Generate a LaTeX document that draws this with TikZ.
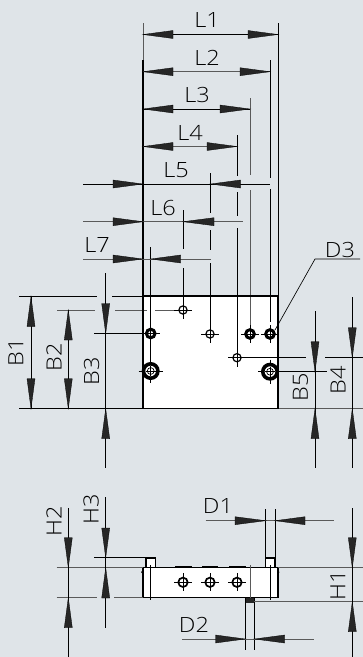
\documentclass[tikz,border=0pt]{standalone}
\usepackage{fontspec}
\setmainfont[FakeStretch=1.12]{Open Sans Light}
\definecolor{bg}{HTML}{DFE4E8}
\definecolor{arr}{HTML}{262626}
\definecolor{gr}{HTML}{5A5A5A}
\tikzset{
  thin line/.style={line width=.65pt,black},
  grey line/.style={line width=.9pt,gr},
  outline/.style={line width=1.5pt,black},
  lab/.style={inner sep=0pt,font=\fontsize{21}{21}\selectfont},
  vlab/.style={lab,rotate=90},
  cross/.style={line width=.7pt,black},
}
% arrowheads: tip and tail positions on a horizontal or vertical dimension line
\newcommand{\harr}[3]{\draw[black,line width=.3pt,fill=arr] (#1,#3) -- (#2,#3-4) -- (#2,#3+4) -- cycle;}
\newcommand{\varr}[3]{\draw[black,line width=.3pt,fill=arr] (#1,#2) -- (#1-4,#3) -- (#1+4,#3) -- cycle;}
\newcommand{\smallhole}[2]{
  \draw[cross] (#1-9,#2) -- (#1+9,#2) (#1,#2-9) -- (#1,#2+9);
  \draw[line width=1.2pt,black] (#1,#2) circle (4.1);}
\newcommand{\elevhole}[2]{
  \draw[cross] (#1-9,#2) -- (#1+9,#2) (#1,#2-9) -- (#1,#2+9);
  \draw[line width=1.7pt,black] (#1,#2) circle (4.7);}
\newcommand{\boldhole}[2]{
  \draw[cross] (#1-9,#2) -- (#1+9,#2) (#1,#2-9) -- (#1,#2+9);
  \draw[line width=3pt,black] (#1,#2) circle (4.3);}
\newcommand{\bighole}[2]{
  \draw[cross] (#1-12,#2) -- (#1+12,#2) (#1,#2-12) -- (#1,#2+12);
  \draw[line width=3.6pt,black,fill=white] (#1,#2) circle (7.2);
  \draw[line width=.7pt,black] (#1,#2) circle (3.4);
  \draw[line width=.5pt,black] (#1-5,#2) -- (#1+5,#2) (#1,#2-5) -- (#1,#2+5);}
\begin{document}
\begin{tikzpicture}[x=1pt,y=-1pt]
\useasboundingbox (0,0) rectangle (363,657);
\fill[bg] (0,0) rectangle (363,657);
% plan view
\fill[white] (143,296) rectangle (278,408.7);
% extension lines, top
\draw[grey line] (143,23) -- (143,60);
\draw[line width=1.2pt] (143,60) -- (143,296);
\draw[thin line] (278,23) -- (278,296);
\draw[thin line] (270,60) -- (270,178) (270,189) -- (270,322);
\draw[grey line] (250,98) -- (250,175) (250,190) -- (250,325);
\draw[thin line] (237,135) -- (237,176) (237,192) -- (237,216) (237,228) -- (237,350);
\draw[thin line] (210.5,173) -- (210.5,213) (210.5,230) -- (210.5,250) (210.5,263) -- (210.5,326);
\draw[thin line] (183,210) -- (183,249) (183,268) -- (183,302);
\draw[thin line] (150.7,247) -- (150.7,380);
% horizontal dimension lines
\draw[thin line] (143,34.5) -- (278,34.5);
\harr{143}{173}{34.5}\harr{278}{248}{34.5}
\draw[grey line] (143,71.7) -- (270,71.7);
\harr{143}{173}{71.7}\harr{270}{240}{71.7}
\draw[thin line] (143,109) -- (250,109);
\harr{143}{173}{109}\harr{250}{220}{109}
\draw[grey line] (143,146.5) -- (237,146.5);
\harr{143}{173}{146.5}\harr{237}{207}{146.5}
\draw[thin line] (83,184) -- (270,184);
\harr{143}{113}{184}\harr{210.5}{240.5}{184}
\draw[grey line] (83,221.7) -- (243,221.7);
\harr{143}{113}{221.7}\harr{183}{214}{221.7}
\draw[grey line] (83,259) -- (210.5,259);
\harr{143}{113}{259}\harr{150.7}{180.7}{259}
% left dimensions
\draw[thin line] (19,296.5) -- (97,296.5) (112,296.5) -- (143,296.5);
\draw[grey line] (57,310) -- (95,310) (115,310) -- (147,310) (155,310) -- (183,310);
\draw[thin line] (94,333.5) -- (150,333.5);
\draw[thin line] (19,408.7) -- (143,408.7);
\draw[thin line] (31,296.5) -- (31,408.7);
\varr{31}{296.5}{326.5}\varr{31}{408.7}{378.7}
\draw[thin line] (68.3,310) -- (68.3,408.7);
\varr{68.3}{310}{340}\varr{68.3}{408.7}{378.7}
\draw[thin line] (105.7,273) -- (105.7,468);
\varr{105.7}{333.5}{303.5}\varr{105.7}{408.7}{438.7}
% right dimensions
\draw[thin line] (237,357.7) -- (306,357.7) (325,357.7) -- (363,357.7);
\draw[thin line] (270,371.7) -- (326.7,371.7);
\draw[grey line,line width=.6pt] (278,408.7) -- (363,408.7);
\draw[thin line] (315,311) -- (315,468);
\varr{315}{371.7}{341.7}\varr{315}{408.7}{438.7}
\draw[thin line] (352.3,297) -- (352.3,468);
\varr{352.3}{357.7}{327.7}\varr{352.3}{408.7}{438.7}
% holes
\smallhole{183}{310}
\smallhole{210}{334}
\smallhole{237}{357.7}
\boldhole{150.7}{333.5}
\boldhole{250}{334}
\boldhole{270}{334}
\bighole{150.7}{371}
\bighole{270}{371.7}
% outline
\draw[outline] (143,296) rectangle (278,408.7);
% D3 leader
\draw[thin line] (275,330) -- (315,259) -- (360,259);
% labels
\node[lab] (l1) at (207,20) {L1};
\node[lab] (l2) at (207,57.5) {L2};
\node[lab] (l3) at (197,95) {L3};
\node[lab] (l4) at (190,132.5) {L4};
\node[lab] (l5) at (176,170) {L5};
\node[lab] (l6) at (163,207.5) {L6};
\node[lab] (l7) at (97,245) {L7};
\node[lab] (d3) at (340,250) {D3};
\node[vlab] (b1) at (16,352) {B1};
\node[vlab] (b2) at (54,357.5) {B2};
\node[vlab] (b3) at (91.5,371) {B3};
\node[vlab] (b5) at (300.5,387.5) {B5};
\node[vlab] (b4) at (338,380) {B4};
\node[vlab] (h2) at (54,521) {H2};
\node[vlab] (h3) at (91,509.5) {H3};
\node[vlab] (h1) at (338,585) {H1};
\node[lab] (d1) at (218,506) {D1};
\node[lab] (d2) at (194,625) {D2};
% elevation view
\fill[white] (143,567.7) rectangle (278,597.7);
\draw[outline,fill=white] (146,567.7) rectangle (155.5,558);
\draw[outline,fill=white] (265.7,567.7) rectangle (275,558);
\fill[arr] (245.3,598) rectangle (254.3,602.5);
\draw[line width=1.5pt] (175,566.3) -- (192,566.3) (202,566.3) -- (218,566.3) (229,566.3) -- (246,566.3);
\draw[outline] (143,567.7) rectangle (278,597.7);
\fill[black] (142,572) circle (1) (278.5,572) circle (1);
\draw[thin line] (150.5,565) -- (150.5,600) (270,565) -- (270,600);
\draw[grey line] (250,565) -- (250,598);
\elevhole{183}{582.3}
\elevhole{210}{582.3}
\elevhole{237}{582.3}
% elevation dimensions
\draw[thin line] (265.7,509) -- (265.7,558) (275,509) -- (275,558);
\draw[grey line] (205.7,520.7) -- (334,520.7);
\harr{265.7}{235}{520.7}\harr{275}{305}{520.7}
\draw[thin line] (245.3,598) -- (245.3,650) (254.3,598) -- (254.3,650);
\draw[grey line] (182,639) -- (314,639);
\harr{245.3}{215.5}{639}\harr{254.3}{284.7}{639}
\draw[grey line] (56.7,567.7) -- (143,567.7);
\draw[grey line] (56.7,597.7) -- (96.7,597.7) (114,597.7) -- (143,597.7);
\draw[thin line] (94,557.7) -- (146,557.7);
\draw[thin line] (68.3,508) -- (68.3,657);
\varr{68.3}{567.7}{537.7}\varr{68.3}{597.7}{627.7}
\draw[thin line] (105.7,497) -- (105.7,627.7);
\varr{105.7}{557.7}{528}\varr{105.7}{567.7}{598}
\draw[grey line,line width=.7pt] (278,567.7) -- (363,567.7) (254.3,601.7) -- (363,601.7);
\draw[thin line] (352.3,508) -- (352.3,657);
\varr{352.3}{567.7}{537.7}\varr{352.3}{601.7}{631.7}
\end{tikzpicture}
\end{document}
